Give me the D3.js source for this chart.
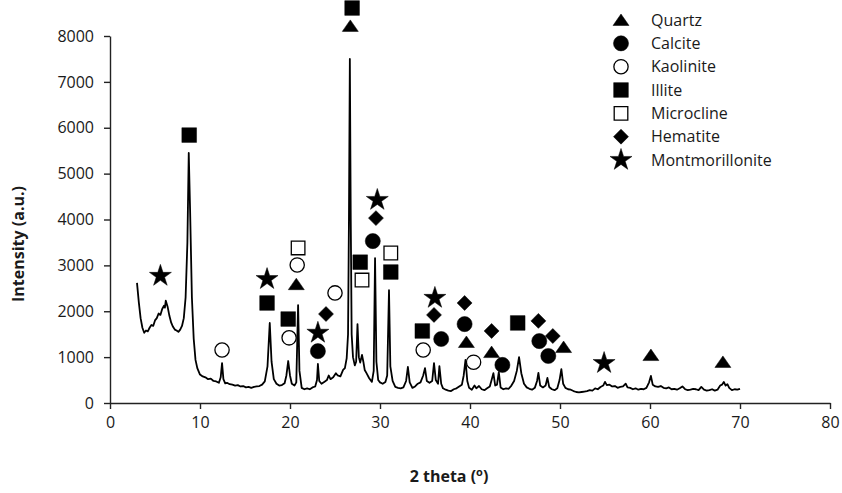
<!DOCTYPE html>
<html lang="en">
<head>
<meta charset="utf-8">
<title>XRD pattern</title>
<script type="text/javascript" src="https://d3js.org/d3.v7.min.js"></script>
<style>
body { margin: 0; background: #ffffff; }
text { font-family: "Open Sans", sans-serif; fill: #1a1a1a; }
.axis path, .axis line { stroke: #222; stroke-width: 1.4; }
.axis text { font-size: 16px; }
.title { font-weight: bold; font-size: 16px; }
.legend text { font-size: 16px; }
</style>
</head>
<body>
<div id="container"></div>
<script type="text/javascript">
var w = 842;
var h = 493;

// diffraction pattern
var twoTheta = [3.0,3.2,3.4,3.6,3.8,4.0,4.2,4.4,4.6,4.8,5.0,5.2,5.4,5.6,5.8,6.0,6.1,6.2,6.4,6.6,6.8,7.0,7.2,7.4,7.6,7.8,8.0,8.2,8.4,8.6,8.75,8.9,9.1,9.3,9.5,9.7,
  10.0,10.3,10.6,10.9,11.2,11.5,11.8,12.1,12.3,12.45,12.6,12.8,13.0,13.3,13.6,13.9,14.2,14.5,14.8,15.1,15.4,15.7,16.0,16.3,16.6,16.9,17.2,17.5,17.75,17.95,18.2,18.5,18.8,19.1,19.4,19.6,19.8,
  20.0,20.2,20.5,20.7,20.9,21.05,21.3,21.6,21.9,22.2,22.5,22.8,23.0,23.1,23.25,23.5,23.8,24.1,24.3,24.5,24.8,25.1,25.3,25.6,25.9,26.1,26.3,26.45,26.55,26.65,26.75,26.85,
  27.0,27.2,27.35,27.5,27.65,27.8,28.0,28.15,28.3,28.5,28.8,29.1,29.3,29.45,29.6,29.8,30.0,30.3,30.6,30.8,31.0,31.15,31.4,31.7,32.0,32.3,32.6,32.9,33.1,33.3,33.6,33.9,
  34.2,34.5,34.8,35.0,35.2,35.5,35.8,36.0,36.2,36.45,36.6,36.8,37.0,37.3,37.6,37.9,38.2,38.5,38.8,39.1,39.3,39.5,39.7,39.9,40.2,40.5,40.7,41.0,41.3,41.6,41.9,42.2,42.4,42.6,42.8,
  43.0,43.2,43.4,43.7,44.0,44.3,44.6,44.9,45.2,45.45,45.7,46.0,46.3,46.6,46.9,47.2,47.45,47.6,47.8,48.1,48.4,48.6,48.8,49.1,49.4,49.7,49.95,50.15,50.35,50.6,50.9,
  51.2,51.5,51.8,52.1,52.4,52.7,53.0,53.3,53.6,53.9,54.2,54.5,54.8,55.0,55.2,55.5,55.8,56.1,56.4,56.7,57.0,57.3,57.5,57.8,58.1,58.4,58.7,59.0,59.3,59.6,59.9,60.1,60.3,60.6,60.9,
  61.2,61.5,61.8,62.1,62.4,62.7,63.0,63.3,63.6,63.9,64.2,64.5,64.8,65.1,65.4,65.7,66.0,66.3,66.6,66.9,67.2,67.5,67.8,68.0,68.2,68.4,68.6,68.8,69.1,69.4,69.7,70.0];
var intensity = [2620,2200,1850,1640,1530,1580,1560,1640,1700,1680,1800,1850,1950,1920,2050,2120,2080,2230,2100,1900,1750,1660,1600,1580,1550,1600,1680,1850,2300,3500,5450,4200,2300,1400,940,760,
  620,580,560,520,530,480,470,440,560,870,520,430,440,410,400,380,390,360,370,340,350,330,350,360,370,400,470,800,1745,900,520,420,380,390,430,600,915,
  600,420,380,450,2135,700,330,300,320,300,340,360,500,850,480,420,460,500,600,520,560,650,600,580,720,760,980,1500,4000,7500,4000,1500,
  1000,820,900,1720,1000,880,1050,900,720,650,540,460,700,3160,900,500,450,420,460,600,2460,800,480,350,330,320,340,480,785,450,330,360,
  420,450,600,760,480,440,480,870,500,420,805,420,320,290,270,260,300,320,360,400,600,940,480,330,290,380,320,370,300,280,320,360,500,650,380,
  400,675,340,300,320,310,380,480,700,1000,650,420,340,310,290,330,480,655,380,340,380,545,350,300,280,320,500,740,420,330,300,
  290,260,240,230,240,250,260,280,270,320,300,350,380,460,390,400,360,370,330,350,360,420,340,330,300,320,290,310,300,330,450,590,400,360,350,
  370,330,320,340,300,310,290,320,360,300,280,290,310,300,280,350,290,270,280,300,270,290,380,400,460,380,410,330,280,300,290,310];

// peak labels per mineral: [2 theta, marker height]
var quartz = [[20.7,2590],[26.7,8220],[39.6,1330],[42.4,1110],[50.4,1220],[60.1,1045],[68.1,895]];
var calcite = [[23.1,1130],[29.2,3530],[36.8,1395],[39.4,1720],[43.6,830],[47.7,1350],[48.7,1025]];
var kaolinite = [[12.45,1155],[19.9,1420],[20.8,3010],[25.0,2400],[34.8,1155],[40.4,890]];
var illite = [[8.8,5840],[17.45,2180],[19.8,1830],[26.9,8610],[27.8,3070],[31.2,2855],[34.7,1570],[45.3,1745]];
var microcline = [[20.9,3380],[28.0,2680],[31.2,3270]];
var hematite = [[24.0,1940],[29.55,4030],[36.0,1920],[39.4,2180],[42.4,1570],[47.6,1790],[49.2,1460]];
var montmorillonite = [[5.6,2770],[17.45,2700],[23.1,1530],[29.7,4425],[36.1,2290],[54.9,870]];

var minerals = ["Quartz","Calcite","Kaolinite","Illite","Microcline","Hematite","Montmorillonite"];
var xTicks = [0,10,20,30,40,50,60,70,80];
var yTicks = [0,1000,2000,3000,4000,5000,6000,7000,8000];

var svg = d3.select("div#container").append("svg")
    .attr("width", w).attr("height", h)
    .style("background-color","#ffffff");

var x = d3.scaleLinear().domain([0, 80]).range([110, 830]);
var y = d3.scaleLinear().domain([0, 8000]).range([403, 36]);

// axes
svg.append("g").attr("class","axis")
    .attr("transform","translate(0,403)")
    .call(d3.axisBottom(x).tickValues(xTicks).tickSize(6).tickPadding(8).tickSizeOuter(0));
svg.append("g").attr("class","axis")
    .attr("transform","translate(110,0)")
    .call(d3.axisLeft(y).tickValues(yTicks).tickFormat(d3.format("d")).tickSize(6).tickPadding(10).tickSizeOuter(0));

// pattern
var line = d3.line()
    .x(function(d, i) { return x(twoTheta[i]); })
    .y(function(d) { return y(d); });
svg.append("path")
    .datum(intensity)
    .attr("d", line)
    .attr("fill","none")
    .attr("stroke","#000")
    .attr("stroke-width",1.8)
    .attr("stroke-linejoin","round");

// marker shapes
var tri = "M0,-6L8,5.5L-8,5.5Z";
var shapes = {
  Quartz: {d: tri, fill: "#000"},
  Calcite: {d: d3.symbol(d3.symbolCircle, 180)(), fill: "#000"},
  Kaolinite: {d: d3.symbol(d3.symbolCircle, 160)(), fill: "#fff"},
  Illite: {d: d3.symbol(d3.symbolSquare, 215)(), fill: "#000"},
  Microcline: {d: d3.symbol(d3.symbolSquare, 185)(), fill: "#fff"},
  Hematite: {d: d3.symbol(d3.symbolSquare, 112)(), fill: "#000", rot: 45},
  Montmorillonite: {d: d3.symbol(d3.symbolStar, 150)(), fill: "#000"}
};
var peaks = {Quartz: quartz, Calcite: calcite, Kaolinite: kaolinite, Illite: illite,
  Microcline: microcline, Hematite: hematite, Montmorillonite: montmorillonite};

function drawMarker(g, name) {
  var s = shapes[name];
  g.append("path")
    .attr("d", s.d)
    .attr("transform", s.rot ? "rotate(" + s.rot + ")" : null)
    .attr("fill", s.fill)
    .attr("stroke", "#000")
    .attr("stroke-width", s.fill == "#fff" ? 1.3 : 0.5);
}

minerals.forEach(function(name) {
  svg.append("g").selectAll("g")
    .data(peaks[name])
    .enter().append("g")
    .attr("transform", function(d) { return "translate(" + x(d[0]) + "," + y(d[1]) + ")"; })
    .each(function() { drawMarker(d3.select(this), name); });
});

// legend
var legend = svg.append("g").attr("class","legend");
var ly = d3.scalePoint().domain(minerals).range([20, 160]);
minerals.forEach(function(name) {
  var row = legend.append("g").attr("transform","translate(621," + ly(name) + ")");
  drawMarker(row, name);
  row.append("text").attr("x", 30).attr("dy","0.35em").text(name);
});

// titles
svg.append("text").attr("class","title")
    .attr("transform","translate(24,244) rotate(-90)")
    .attr("text-anchor","middle")
    .text("Intensity (a.u.)");
var xt = svg.append("text").attr("class","title")
    .attr("x", 449).attr("y", 482)
    .attr("text-anchor","middle")
    .text("2 theta (");
xt.append("tspan").attr("font-size","11px").attr("dy","-6").text("o");
xt.append("tspan").attr("dy","6").text(")");
</script>
</body>
</html>
